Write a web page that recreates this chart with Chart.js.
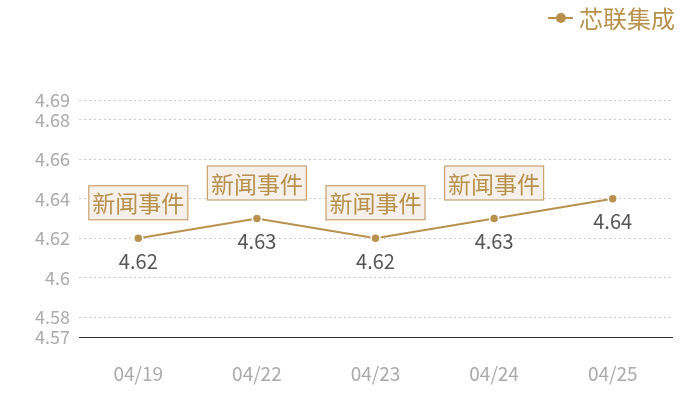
<!DOCTYPE html>
<html>
<head>
<meta charset="utf-8">
<script src="https://cdn.jsdelivr.net/npm/chart.js@4/dist/chart.umd.min.js"></script>
<style>
  html, body { margin: 0; padding: 0; background: #fff; }
  #wrap { width: 700px; height: 400px; position: relative; }
</style>
</head>
<body>
<div id="wrap"><canvas id="chart"></canvas></div>
<script>
const FONT = "'Noto Sans CJK SC', 'Open Sans', sans-serif";
const GOLD = '#B8914D';

const DATES   = ['04/19', '04/22', '04/23', '04/24', '04/25'];
const PRICES  = [4.62, 4.63, 4.62, 4.63, 4.64];
const EVENTS  = ['新闻事件', '新闻事件', '新闻事件', '新闻事件', ''];
const Y_TICKS = [4.57, 4.58, 4.6, 4.62, 4.64, 4.66, 4.68, 4.69];
const SERIES_NAME = '芯联集成';

// value labels under points + news boxes above them
const markPlugin = {
  id: 'marks',
  afterDatasetsDraw(chart) {
    const ctx = chart.ctx;
    const meta = chart.getDatasetMeta(0);
    ctx.save();
    meta.data.forEach((pt, i) => {
      ctx.font = "20px " + FONT;
      ctx.fillStyle = '#555';
      ctx.textAlign = 'center';
      ctx.textBaseline = 'middle';
      ctx.fillText(String(PRICES[i]), pt.x, pt.y + 23);

      if (EVENTS[i]) {
        const w = 100, h = 35;
        const bx = pt.x - w / 2, by = pt.y - 18 - h;
        ctx.fillStyle = '#F5F0EA';
        ctx.fillRect(bx, by, w, h);
        ctx.strokeStyle = '#C9A46E';
        ctx.lineWidth = 1.2;
        ctx.strokeRect(bx + 0.5, by + 0.5, w - 1, h - 1);
        ctx.font = "23px " + FONT;
        ctx.fillStyle = GOLD;
        ctx.fillText(EVENTS[i], pt.x, by + h / 2 + 1);
      }
    });

    // legend top right
    ctx.strokeStyle = GOLD;
    ctx.lineWidth = 2;
    ctx.beginPath();
    ctx.moveTo(548, 18);
    ctx.lineTo(573, 18);
    ctx.stroke();
    ctx.fillStyle = GOLD;
    ctx.beginPath();
    ctx.arc(561, 18, 5, 0, Math.PI * 2);
    ctx.fill();
    ctx.font = "24px " + FONT;
    ctx.textAlign = 'left';
    ctx.textBaseline = 'middle';
    ctx.fillText(SERIES_NAME, 579, 19);
    ctx.restore();
  }
};

new Chart(document.getElementById('chart'), {
  type: 'line',
  data: {
    labels: DATES,
    datasets: [{
      label: SERIES_NAME,
      data: PRICES,
      borderColor: GOLD,
      borderWidth: 2,
      pointRadius: 4.5,
      pointBackgroundColor: GOLD,
      pointBorderColor: '#fff',
      pointBorderWidth: 1.5,
      tension: 0,
      fill: false
    }]
  },
  options: {
    responsive: true,
    maintainAspectRatio: false,
    animation: false,
    layout: { padding: { top: 100, right: 28, left: 0, bottom: 0 } },
    plugins: {
      legend: { display: false },
      tooltip: { enabled: false }
    },
    scales: {
      x: {
        offset: true,
        grid: { display: false, drawTicks: false },
        border: { display: true, color: '#333', width: 1 },
        ticks: { font: { family: FONT, size: 19 }, color: '#aaa', padding: 25 },
        afterFit: s => { s.height = 63; }
      },
      y: {
        min: 4.57,
        max: 4.69,
        afterBuildTicks: s => { s.ticks = Y_TICKS.map(v => ({ value: v })); },
        grid: { color: '#ccc', drawTicks: false },
        border: { display: false, dash: [2, 3] },
        ticks: {
          font: { family: FONT, size: 18 },
          color: '#aaa',
          padding: 9,
          autoSkip: false,
          callback: v => String(v)
        },
        afterFit: s => { s.width = 79; }
      }
    }
  },
  plugins: [markPlugin]
});
</script>
</body>
</html>
